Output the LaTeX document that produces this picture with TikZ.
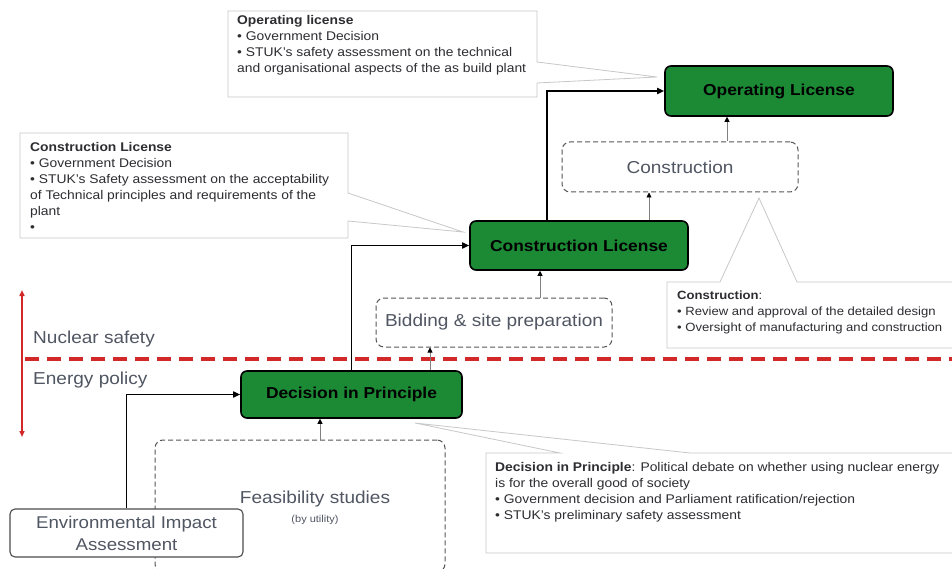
\documentclass[tikz,border=0pt]{standalone}
\usepackage{fontspec}
\setmainfont{Liberation Sans}[FakeStretch=1.1]
\usetikzlibrary{arrows.meta,calc}

\definecolor{licgreen}{RGB}{28,138,52}
\definecolor{calloutline}{RGB}{200,200,200}
\definecolor{calltext}{RGB}{45,45,50}
\definecolor{softtext}{RGB}{80,86,98}
\definecolor{dashgray}{RGB}{85,85,85}
\definecolor{policyred}{RGB}{210,40,40}

\tikzset{
  license/.style={draw=black, line width=1.6pt, fill=licgreen, rounded corners=6pt,
    font=\fontsize{15.8}{18}\selectfont\bfseries, text=black, inner sep=0pt},
  phase/.style={draw=dashgray, dash pattern=on 5pt off 3pt, line width=1pt,
    rounded corners=8pt, fill=white, font=\fontsize{17.3}{20}\selectfont, text=softtext, inner sep=0pt},
  eiabox/.style={draw=dashgray!90!black, line width=1.1pt, rounded corners=5pt, fill=white,
    font=\fontsize{17}{22}\selectfont, text=softtext, align=center, inner sep=0pt},
  flow/.style={draw=black, line width=1.6pt, -{Triangle[length=7pt,width=6pt]}},
  feed/.style={draw=gray, line width=0.6pt, -{Triangle[length=5pt,width=5pt,color=black]}},
  callout/.style={draw=calloutline, line width=0.8pt, fill=white},
  calltxt/.style={font=\fontsize{12.6}{16}\selectfont, text=calltext, align=left,
    anchor=north west, inner sep=0pt},
  arealabel/.style={font=\fontsize{17.3}{20}\selectfont, text=softtext, anchor=west, inner sep=0pt},
}

\begin{document}
\begin{tikzpicture}[x=1pt,y=-1pt]
\clip (0,0) rectangle (952,569);
\fill[white] (0,0) rectangle (952,569);

% ---- callout frames with their pointers ----
\draw[callout] (228,11) -- (537,11) -- (537,62) -- (657,77) -- (537,83) -- (537,97) -- (228,97) -- cycle;
\draw[callout] (20,133) -- (348,133) -- (348,193) -- (463,232) -- (348,221) -- (348,238) -- (20,238) -- cycle;
\draw[callout] (667,282) -- (720,282) -- (759,198) -- (797,282) -- (960,282) -- (960,348) -- (667,348) -- cycle;
\draw[callout] (486,453) -- (560,453) -- (415,423) -- (690,453) -- (960,453) -- (960,553) -- (486,553) -- cycle;

\node[calltxt] (optxt) at (237,15) {\textbf{Operating license}\\
  • Government Decision\\
  • STUK's safety assessment on the technical\\
  and organisational aspects of the as build plant};
\node[calltxt] (cltxt) at (30,142) {\textbf{Construction License}\\
  • Government Decision\\
  • STUK's Safety assessment on the acceptability\\
  of Technical principles and requirements of the\\
  plant\\
  •};
\node[calltxt, font=\fontsize{11.9}{16}\selectfont] (contxt) at (677,291) {\textbf{Construction}:\\
  • Review and approval of the detailed design\\
  • Oversight of manufacturing and construction};
\node[calltxt] (diptxt) at (495,462) {\textbf{Decision in Principle}: Political debate on whether using nuclear energy\\
  is for the overall good of society\\
  • Government decision and Parliament ratification/rejection\\
  • STUK's preliminary safety assessment};

% ---- policy / safety boundary ----
\coordinate (bndL) at (25,359);
\coordinate (bndR) at (952,359);
\draw[policyred, line width=3.5pt, dash pattern=on 14pt off 8pt] (bndL) -- (bndR);
\coordinate (axTop) at (22,290);
\coordinate (axBot) at (22,437);
\draw[policyred, line width=1.5pt, {Triangle[length=6pt,width=5pt]}-{Triangle[length=6pt,width=5pt]}] (axTop) -- (axBot);
\node[arealabel] (nsafe) at (33,339) {Nuclear safety};
\node[arealabel] (epol) at (33,380) {Energy policy};

% ---- process phases ----
\node[phase, minimum width=290pt, minimum height=132pt] (feas) at (300,506) {};
\node[font=\fontsize{17.3}{20}\selectfont, text=softtext, inner sep=0pt] (feaslbl) at (315,499) {Feasibility studies};
\node[font=\fontsize{10}{12}\selectfont, text=softtext, inner sep=0pt] (feassub) at (315,520) {(by utility)};
\node[phase, minimum width=236pt, minimum height=49pt] (bid) at (494,322.5) {Bidding \& site preparation};
\node[phase, minimum width=236pt, minimum height=50pt] (constr) at (680,167) {Construction};

% ---- licensing steps ----
\node[license, minimum width=221pt, minimum height=47pt] (dip) at (351.5,394.5) {Decision in Principle};
\node[license, minimum width=218pt, minimum height=49pt] (clic) at (579,245.5) {Construction License};
\node[license, minimum width=228pt, minimum height=50pt] (oplic) at (779,91) {Operating License};

\node[eiabox, minimum width=233pt, minimum height=48pt] (eia) at (126.5,533) {Environmental Impact\\Assessment};

% ---- feeds into each step ----
\draw[feed] ([xshift=20pt]feas.north) -- ([xshift=20pt]feas.north |- dip.south);
\draw[feed] ([xshift=78.5pt]dip.north) -- ([xshift=78.5pt]dip.north |- bid.south);
\draw[feed] ([xshift=46pt]bid.north) -- ([xshift=46pt]bid.north |- clic.south);
\draw[feed] ([xshift=70pt]clic.north) -- ([xshift=70pt]clic.north |- constr.south);
\draw[feed] ([xshift=47pt]constr.north) -- ([xshift=47pt]constr.north |- oplic.south);

% ---- licence chain ----
\draw[flow] (eia.north) |- (dip.west);
\draw[flow] (dip.north) |- (clic.west);
\draw[flow] ([xshift=-32pt]clic.north) |- (oplic.west);
\end{tikzpicture}
\end{document}
